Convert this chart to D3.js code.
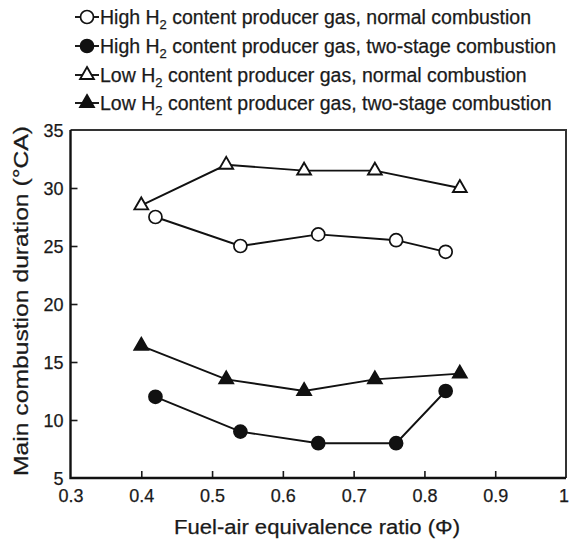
<!DOCTYPE html>
<html>
<head>
<meta charset="utf-8">
<script src="https://cdn.jsdelivr.net/npm/d3@7/dist/d3.min.js"></script>
<style>
  html, body { margin: 0; padding: 0; background: #fff; }
  svg { display: block; }
  text { font-family: "Liberation Sans", Arial, sans-serif; fill: #1a1a1a; stroke: #1a1a1a; stroke-width: 0.25px; }
</style>
</head>
<body>
<svg id="chart" width="569" height="545"></svg>
<script>
// Equivalence ratios and main combustion durations (°CA)
const highNormalX = [0.42, 0.54, 0.65, 0.76, 0.83];
const highNormalY = [27.5, 25.0, 26.0, 25.5, 24.5];
const highTwoStageX = [0.42, 0.54, 0.65, 0.76, 0.83];
const highTwoStageY = [12.0, 9.0, 8.0, 8.0, 12.5];
const lowNormalX = [0.40, 0.52, 0.63, 0.73, 0.85];
const lowNormalY = [28.5, 32.0, 31.5, 31.5, 30.0];
const lowTwoStageX = [0.40, 0.52, 0.63, 0.73, 0.85];
const lowTwoStageY = [16.4, 13.5, 12.5, 13.5, 14.0];

const xTicks = [0.3, 0.4, 0.5, 0.6, 0.7, 0.8, 0.9, 1.0];
const yTicks = [5, 10, 15, 20, 25, 30, 35];

const seriesNames = [
  "High H2 content producer gas, normal combustion",
  "High H2 content producer gas, two-stage combustion",
  "Low H2 content producer gas, normal combustion",
  "Low H2 content producer gas, two-stage combustion"
];

const series = [
  { name: seriesNames[0], x: highNormalX, y: highNormalY, shape: "circle", filled: false },
  { name: seriesNames[1], x: highTwoStageX, y: highTwoStageY, shape: "circle", filled: true },
  { name: seriesNames[2], x: lowNormalX, y: lowNormalY, shape: "triangle", filled: false },
  { name: seriesNames[3], x: lowTwoStageX, y: lowTwoStageY, shape: "triangle", filled: true }
];

const svg = d3.select("#chart");
const plot = { left: 70.5, right: 566, top: 130, bottom: 478 };

const x = d3.scaleLinear().domain([0.3, 1.0]).range([plot.left, plot.right]);
const y = d3.scaleLinear().domain([5, 35]).range([plot.bottom, plot.top]);

// Axes with inward ticks
const xAxis = d3.axisBottom(x).tickValues(xTicks).tickSize(-7).tickPadding(15)
  .tickFormat(d => d === 1 ? "1" : d3.format(".1f")(d));
const yAxis = d3.axisLeft(y).tickValues(yTicks).tickSize(-7).tickPadding(7);

const gx = svg.append("g").attr("transform", `translate(0,${plot.bottom})`).call(xAxis);
const gy = svg.append("g").attr("transform", `translate(${plot.left},0)`).call(yAxis);

[gx, gy].forEach(g => {
  g.select(".domain").remove();
  g.selectAll(".tick line").attr("stroke", "#1a1a1a").attr("stroke-width", 1.6);
  g.selectAll(".tick text").style("font-size", "18px").attr("fill", "#1a1a1a");
});
// No tick marks at the frame corners
gx.selectAll(".tick line").filter(d => d === 0.3 || d === 1.0).remove();
gy.selectAll(".tick line").filter(d => d === 5 || d === 35).remove();
gx.selectAll(".tick text").attr("dy", "0.5em");
gy.selectAll(".tick text").attr("dy", "0.36em");
// Keep the last x label inside the page edge
gx.selectAll(".tick text").filter(d => d === 1.0)
  .attr("text-anchor", "end").attr("x", 2.5);

// Frame
svg.append("path")
  .attr("d", `M${plot.left},${plot.top}H${plot.right}V${plot.bottom}`)
  .attr("fill", "none").attr("stroke", "#333").attr("stroke-width", 2);
svg.append("path")
  .attr("d", `M${plot.left},${plot.top}V${plot.bottom}H${plot.right}`)
  .attr("fill", "none").attr("stroke", "#111").attr("stroke-width", 2.4);

// Axis titles
svg.append("text")
  .attr("x", 317).attr("y", 534)
  .attr("text-anchor", "middle")
  .attr("textLength", 286).attr("lengthAdjust", "spacingAndGlyphs")
  .style("font-size", "20px")
  .text("Fuel-air equivalence ratio (Φ)");

svg.append("text")
  .attr("transform", `translate(28,${(plot.top + plot.bottom) / 2 - 3}) rotate(-90)`)
  .attr("text-anchor", "middle")
  .attr("textLength", 350).attr("lengthAdjust", "spacingAndGlyphs")
  .style("font-size", "21px")
  .text("Main combustion duration (°CA)");

const triPath = d3.symbol().type(d3.symbolTriangle).size(82)();

function drawMarker(g, s, cx, cy) {
  if (s.shape === "circle") {
    g.append("circle")
      .attr("cx", cx).attr("cy", cy).attr("r", 6.5)
      .attr("fill", s.filled ? "#111" : "#fff")
      .attr("stroke", "#111").attr("stroke-width", 1.7);
  } else {
    g.append("path")
      .attr("d", triPath)
      .attr("transform", `translate(${cx},${cy})`)
      .attr("fill", s.filled ? "#111" : "#fff")
      .attr("stroke", "#111").attr("stroke-width", 1.9);
  }
}

const line = d3.line().x(d => x(d[0])).y(d => y(d[1]));

series.forEach(s => {
  const pts = s.x.map((v, i) => [v, s.y[i]]);
  const g = svg.append("g");
  g.append("path").attr("d", line(pts))
    .attr("fill", "none").attr("stroke", "#111").attr("stroke-width", 1.9);
  pts.forEach(p => drawMarker(g, s, x(p[0]), y(p[1])));
});

// Legend
const legendRowY = [17, 46, 75, 103];
series.forEach((s, i) => {
  const g = svg.append("g").attr("transform", `translate(0,${legendRowY[i]})`);
  g.append("line").attr("x1", 75).attr("x2", 99).attr("y1", 0).attr("y2", 0)
    .attr("stroke", "#111").attr("stroke-width", 1.9);
  drawMarker(g, s, 87, 0);
  const parts = s.name.split("H2");
  const t = g.append("text").attr("x", 100).attr("y", 7).style("font-size", "19.5px");
  t.append("tspan").text(parts[0] + "H");
  t.append("tspan").attr("dy", 5).style("font-size", "13px").text("2");
  t.append("tspan").attr("dy", -5).text(parts[1]);
});
</script>
</body>
</html>
